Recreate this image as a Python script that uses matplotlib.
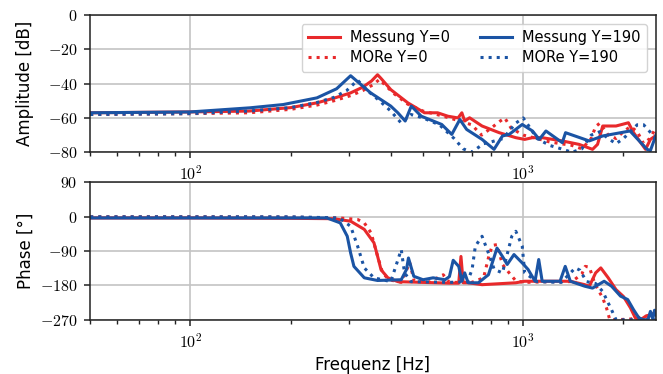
import numpy as np
import matplotlib
matplotlib.use("Agg")
import matplotlib.pyplot as plt
from matplotlib.ticker import FuncFormatter, FixedLocator

plt.rcParams['mathtext.fontset'] = 'cm'
plt.rcParams['font.family'] = ['DejaVu Sans']

# --- amplitude [dB] ---
f_mes0 = [50, 100, 150, 200, 240, 270, 303, 330, 350, 365, 374, 400, 450, 505, 553, 594, 637, 654, 667, 690,
          752, 847, 950, 1010, 1066, 1140, 1310, 1471, 1615, 1672, 1733, 1900, 2070, 2146, 2330, 2410, 2530]
a_mes0 = [-57, -56.5, -56, -54, -51.2, -48.5, -45.4, -42, -38.5, -34.8, -37, -43.5, -51.2, -57, -57, -59, -60, -57, -61.8, -59.9,
          -64.7, -68.6, -71.5, -72.5, -71.5, -71.5, -73.4, -75.4, -78.3, -75.4, -64.7, -64.7, -62.8, -68.6, -78.3, -72.5, -69.6]

f_mor0 = [50, 100, 150, 200, 240, 270, 303, 330, 355, 370, 385, 410, 450, 500, 550, 600, 650, 700, 750, 800,
          850, 880, 920, 1000, 1100, 1200, 1400, 1500, 1600, 1650, 1700, 1800, 1900, 2000, 2100, 2200, 2300, 2400, 2500]
a_mor0 = [-58, -57.5, -57, -55, -52.5, -50, -47, -44, -40.5, -37.5, -41, -46, -52, -56, -58, -60, -62, -64, -70, -66,
          -62, -60, -66, -70, -72, -74, -76, -78, -72, -65, -63, -70, -72, -68, -65, -68, -75, -72, -66]

f_mes190 = [50, 100, 151, 190, 240, 275, 303, 348, 400, 420, 442, 461, 494, 569, 610, 645, 676, 752, 817, 866,
            907, 993, 1066, 1117, 1170, 1310, 1340, 1578, 1733, 2093, 2355, 2410, 2520]
a_mes190 = [-57, -56.5, -54.1, -52.2, -48.3, -43, -35.4, -45.4, -53.1, -57, -61.8, -53.1, -59, -63.8, -69.6, -60.9, -66.7, -72.5, -78.3, -70.5,
            -69.6, -63.8, -67.6, -72.5, -67.6, -74.4, -68.6, -73.4, -70.5, -67.6, -78.3, -79, -68.6]

f_mor190 = [50, 100, 150, 200, 240, 270, 295, 318, 340, 370, 400, 430, 460, 500, 560, 620, 660, 700, 760, 800,
            870, 950, 1000, 1050, 1100, 1200, 1300, 1400, 1500, 1600, 1700, 1800, 1900, 2000, 2200, 2300, 2400, 2500]
a_mor190 = [-58, -57.5, -56, -54, -51, -48, -44, -38, -44, -50, -56, -63, -58, -60, -64, -72, -78, -80, -75, -74,
            -72, -63, -60, -66, -72, -76, -78, -80, -78, -70, -68, -72, -75, -72, -64, -64, -68, -72]

# --- phase [deg] ---
fp_mes0 = [50, 100, 200, 269, 303, 333, 356, 365, 374, 392, 420, 500, 600, 640, 650, 660, 683, 752, 950, 1010,
           1190, 1385, 1530, 1580, 1650, 1710, 1800, 1900, 2000, 2100, 2170, 2250, 2330, 2420, 2500]
p_mes0 = [-3, -3, -4, -5, -11.6, -33, -68, -103, -139, -160, -170, -172, -174, -174, -104, -173, -173, -178, -173, -169,
          -169, -169, -178, -182, -147, -134, -160, -191, -209, -239, -265, -270, -261, -256, -252]

fp_mor0 = [50, 100, 200, 280, 318, 333, 349, 365, 378, 395, 430, 456, 470, 520, 575, 600, 700, 760, 790, 808,
           834, 866, 907, 950, 1010, 1200, 1400, 1500, 1535, 1580, 1640, 1733, 1780, 1820, 1900, 2100, 2300, 2500]
p_mor0 = [0, 0, -1, -3, -7, -16, -42, -103, -147, -165, -172, -120, -168, -172, -152, -172, -172, -160, -100, -75,
          -73, -125, -147, -168, -172, -170, -170, -150, -130, -132, -175, -213, -240, -270, -270, -268, -262, -255]

fp_mes190 = [50, 100, 200, 257, 282, 296, 303, 310, 333, 365, 430, 446, 452, 469, 500, 536, 582, 600, 616, 640,
             654, 667, 683, 733, 786, 834, 866, 895, 938, 993, 1034, 1085, 1113, 1140, 1290, 1337, 1385, 1530,
             1615, 1750, 1842, 1960, 2060, 2146, 2225, 2300, 2370, 2410, 2450, 2480, 2520]
p_mes190 = [-3, -3, -3, -3, -16, -51, -95, -130, -160, -167, -165, -138, -108, -156, -165, -160, -165, -157, -114, -130,
            -169, -147, -173, -173, -152, -82, -104, -125, -99, -121, -138, -169, -112, -169, -169, -130, -169, -182,
            -187, -169, -182, -208, -217, -244, -265, -270, -270, -248, -268, -245, -262]

fp_mor190 = [50, 100, 200, 280, 303, 318, 333, 356, 400, 430, 440, 460, 600, 680, 702, 718, 752, 786, 818, 866,
             924, 950, 993, 1010, 1100, 1300, 1434, 1480, 1550, 1650, 1733, 1842, 1900, 2100, 2300, 2500]
p_mor190 = [0, 0, 0, -3, -25, -77, -134, -160, -170, -86, -147, -170, -172, -170, -138, -77, -51, -95, -138, -147,
            -51, -38, -77, -147, -170, -172, -134, -140, -170, -175, -196, -244, -270, -270, -270, -270]

red = '#e8292b'
blue = '#1b54a4'
lw = 2.2

fig, (ax1, ax2) = plt.subplots(2, 1, figsize=(6.63, 3.74), dpi=100)
fig.subplots_adjust(left=0.136, right=0.989, top=0.96, bottom=0.145, hspace=0.22)

ax1.plot(f_mes0, a_mes0, color=red, lw=lw, label='Messung Y=0')
ax1.plot(f_mor0, a_mor0, color=red, lw=lw, ls=':', label='MORe Y=0')
ax1.plot(f_mes190, a_mes190, color=blue, lw=lw, label='Messung Y=190')
ax1.plot(f_mor190, a_mor190, color=blue, lw=lw, ls=':', label='MORe Y=190')

ax2.plot(fp_mes0, p_mes0, color=red, lw=lw)
ax2.plot(fp_mor0, p_mor0, color=red, lw=lw, ls=':')
ax2.plot(fp_mes190, p_mes190, color=blue, lw=lw)
ax2.plot(fp_mor190, p_mor190, color=blue, lw=lw, ls=':')

mfmt = FuncFormatter(lambda v, pos: r'$%d$' % v)
xfmt = FuncFormatter(lambda v, pos: r'$10^{%d}$' % round(np.log10(v)))

for ax in (ax1, ax2):
    ax.set_xscale('log')
    ax.set_xlim(50, 2500)
    ax.xaxis.set_major_locator(FixedLocator([100, 1000]))
    ax.xaxis.set_major_formatter(xfmt)
    ax.yaxis.set_major_formatter(mfmt)
    ax.grid(True, which='major', color='#c4c4c4', lw=1.2)
    ax.set_axisbelow(True)
    ax.tick_params(labelsize=11.5, length=4.5, width=1.1, color='#222222', pad=4.5)
    ax.tick_params(which='minor', length=3, width=1.0, color='#222222')
    for s in ax.spines.values():
        s.set_linewidth(1.1)
        s.set_color('#222222')

ax1.set_ylim(-80, 0)
ax1.set_yticks([-80, -60, -40, -20, 0])
ax1.set_ylabel('Amplitude [dB]', fontsize=12)
ax2.set_ylim(-270, 90)
ax2.set_yticks([-270, -180, -90, 0, 90])
ax2.set_ylabel('Phase [°]', fontsize=12)
ax2.set_xlabel('Frequenz [Hz]', fontsize=12)

ax1.legend(ncol=2, loc='upper right', fontsize=10.5, handlelength=2.2, handletextpad=0.7,
           columnspacing=2.0, labelspacing=0.35, borderpad=0.45, borderaxespad=0.6,
           framealpha=0.85, fancybox=True)

fig.align_ylabels([ax1, ax2])
fig.savefig('out.png', dpi=100)
